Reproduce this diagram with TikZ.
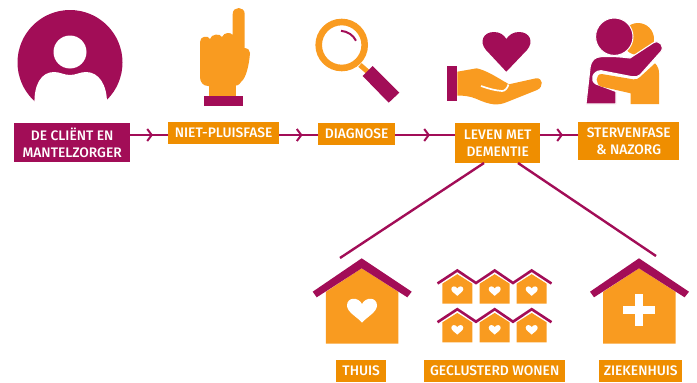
\documentclass[tikz,border=0pt]{standalone}
\usepackage{fontspec}
\setmainfont[BoldFont={Fira Sans Medium}]{Fira Sans}
\usetikzlibrary{arrows.meta,decorations.markings}
\definecolor{plum}{HTML}{A20D57}
\definecolor{iconorange}{HTML}{F99B20}
\definecolor{boxorange}{HTML}{EF8E00}
\tikzset{
  x=1pt,y=-1pt,
  label box/.style={anchor=north west,inner sep=0pt,text=white,align=center,font=\fontsize{13.8}{16.5}\selectfont\bfseries,
    minimum width=#1},
  obox/.style={fill=boxorange},
  pbox/.style={fill=plum},
  flow/.style={draw=plum,line width=2.7pt},
  flowtip/.style={postaction={decorate},decoration={markings,mark=at position #1 with {\arrow[plum,line width=2pt]{Straight Barb[length=4.5pt,width=12pt]}}}},
  branch/.style={draw=plum,line width=2.4pt},
  smallheart/.pic={\fill[white] (0,3.2) .. controls (-2,1) and (-6,-1) .. (-6,-3.6) .. controls (-6,-7) and (-1.5,-7.2) .. (0,-4.2) .. controls (1.5,-7.2) and (6,-7) .. (6,-3.6) .. controls (6,-1) and (2,1) .. (0,3.2) -- cycle;},
  smallhouse/.pic={
    \fill[iconorange] (-15,13.5) -- (-15,-6.5) -- (0,-16) -- (15,-6.5) -- (15,13.5) -- cycle;
    \pic at (0,2.5) {smallheart};},
  bighouse/.pic={
    \fill[iconorange] (-35.8,75.4) -- (-35.8,23.5) -- (0,0) -- (36.6,23.5) -- (36.6,75.4) -- cycle;
    \fill[plum] (-49,23.4) -- (0,-10) -- (50,23.4) -- (45.6,29) -- (0,0) -- (-45,29) -- cycle;}
}
\begin{document}
\begin{tikzpicture}
\useasboundingbox (0,0) rectangle (697,383);
\node[label box=116pt,pbox,minimum height=39pt] (client) at (14,123) {DE CLIËNT EN\\MANTELZORGER};
\node[label box=111pt,obox,minimum height=22pt] (niet) at (168,122) {NIET-PLUISFASE};
\node[label box=77pt,obox,minimum height=22pt] (diag) at (318,123) {DIAGNOSE};
\node[label box=85pt,obox,minimum height=40pt] (leven) at (455,123) {LEVEN MET\\DEMENTIE};
\node[label box=101pt,obox,minimum height=38pt] (sterven) at (578,122) {STERVENFASE\\\&{} NAZORG};
\node[label box=50pt,obox,minimum height=22pt] (thuis) at (336,360) {THUIS};
\node[label box=141pt,obox,minimum height=22pt] (geclusterd) at (424,360) {GECLUSTERD WONEN};
\node[label box=83pt,obox,minimum height=22pt] (zieken) at (599,360) {ZIEKENHUIS};
\coordinate (axis) at (0,135);
\coordinate (thuisend) at (340,258);
\coordinate (ziekenend) at (656,256);
\coordinate (levenleft) at (484,163);
\coordinate (levenright) at (518,163);
\path[flow,flowtip=0.60] (client.east |- axis) -- (niet.west |- axis);
\path[flow,flowtip=0.60] (niet.east |- axis) -- (diag.west |- axis);
\path[flow,flowtip=0.58] (diag.east |- axis) -- (leven.west |- axis);
\path[flow,flowtip=0.60] (leven.east |- axis) -- (sterven.west |- axis);
\draw[branch] (levenleft) -- (thuisend);
\draw[branch] (levenright) -- (ziekenend);
% person
\begin{scope}
\clip (0,0) rectangle (140,102);
\fill[plum] (70,62.5) circle (52.5);
\end{scope}
\fill[white] (34.5,103) .. controls (34,85) and (41,72) .. (54,72) .. controls (60,72) and (64,75) .. (70,75) .. controls (76,75) and (80,72) .. (86,72) .. controls (99,72) and (107,85) .. (107,103) -- cycle;
\fill[white] (70,52) circle (16.5);
% pointing hand
\fill[iconorange] (209,84) -- (236,84) -- (236,96) -- (209,96) -- cycle;
\fill[iconorange] (232.7,14) .. controls (232.7,6) and (244.7,6) .. (244.7,14) -- (244.7,48) .. controls (248,48.5) and (250,50) .. (250,53) .. controls (249,66) and (246,78) .. (241,82) .. controls (239,85) and (237,86) .. (234,86) -- (208,86) .. controls (203,86) and (200,82) .. (200,77) -- (200,42) .. controls (200,36) and (208,35) .. (210,39) .. controls (211,34) and (220,33) .. (222,37) .. controls (224,32) and (231,32) .. (232.7,35) -- cycle;
\fill[plum] (204.3,95.5) rectangle (243.3,106);
% magnifier
\draw[iconorange,line width=5pt] (360,65) -- (368,72);
\draw[iconorange,line width=6.6pt] (341.7,45) circle (23);
\fill[plum] (372.7,66) -- (399.3,92.7) -- (388.7,102.7) -- (362.7,76) -- cycle;
\draw[plum,line width=2pt] (341,30.8) .. controls (348,31.5) and (353,35) .. (356,40.7);
% heart in hand
\fill[plum] (506.3,71.7) -- (486,50) .. controls (479,42) and (483,32) .. (494,32) .. controls (500,32) and (504,35) .. (506.3,39) .. controls (509,35) and (513,32) .. (519,32) .. controls (530,32) and (534,42) .. (527,50) -- cycle;
\fill[plum] (447.3,66) rectangle (457.3,101);
\fill[iconorange] (457.3,71.7) -- (476.7,68.3) .. controls (485,70) and (495,76) .. (503.3,81) .. controls (505,82) and (507,83) .. (509,84.3) -- (536,78.3) .. controls (543,77.5) and (544,87) .. (537,90) -- (507,102) .. controls (498,106) and (490,105) .. (476.7,99) .. controls (470,96) and (463,95.5) .. (457.3,95.5) -- cycle;
\draw[white,line width=1.7pt] (481,86) .. controls (488,88.5) and (495,90.5) .. (502,91) .. controls (505,91) and (507.5,88) .. (508.5,84.5);
% hug
\fill[iconorange] (638,39) circle (16);
\filldraw[plum,draw=white,line width=1.1pt] (586,104) -- (590,68) .. controls (591,60) and (595,57) .. (601,56.7) .. controls (612,56) and (622,57) .. (630,58) -- (653,43) .. controls (659,39) and (665,46) .. (661,51.5) -- (640,75) .. controls (638,77) and (635,77) .. (632,76.7) -- (601,70.7) .. controls (592,71) and (590,81) .. (596,84) -- (616,91.5) -- (616,104) -- cycle;
\fill[iconorange] (630.7,104) -- (630.7,93.3) -- (601.7,86.7) .. controls (595,85) and (595,74) .. (601.7,74) -- (633,79.3) .. controls (636,80) and (638,79) .. (640,77) -- (655,63.3) .. controls (658,66) and (659,70) .. (659,73) -- (659,104) -- cycle;
\filldraw[plum,draw=white,line width=1pt] (614.3,36.7) circle (18.7);
% houses
\pic at (361.7,268.3) {bighouse};
\pic[scale=2.5] at (362,314.5) {smallheart};
\pic at (639,268.3) {bighouse};
\fill[white] (634.7,294) rectangle (643.3,326);
\fill[white] (623,305.7) rectangle (655,314);
\foreach \yy in {0,38.7}{
  \foreach \xx in {457.3,494.7,531.7}{\pic at (\xx,290.2+\yy) {smallhouse};}
  \draw[plum,line width=2.6pt] (437.5,283.5+\yy) -- (457.3,270.5+\yy) -- (476,283+\yy) -- (494.7,270.5+\yy) -- (513,283+\yy) -- (531.7,270.5+\yy) -- (551.5,283.5+\yy);
}
\end{tikzpicture}
\end{document}
